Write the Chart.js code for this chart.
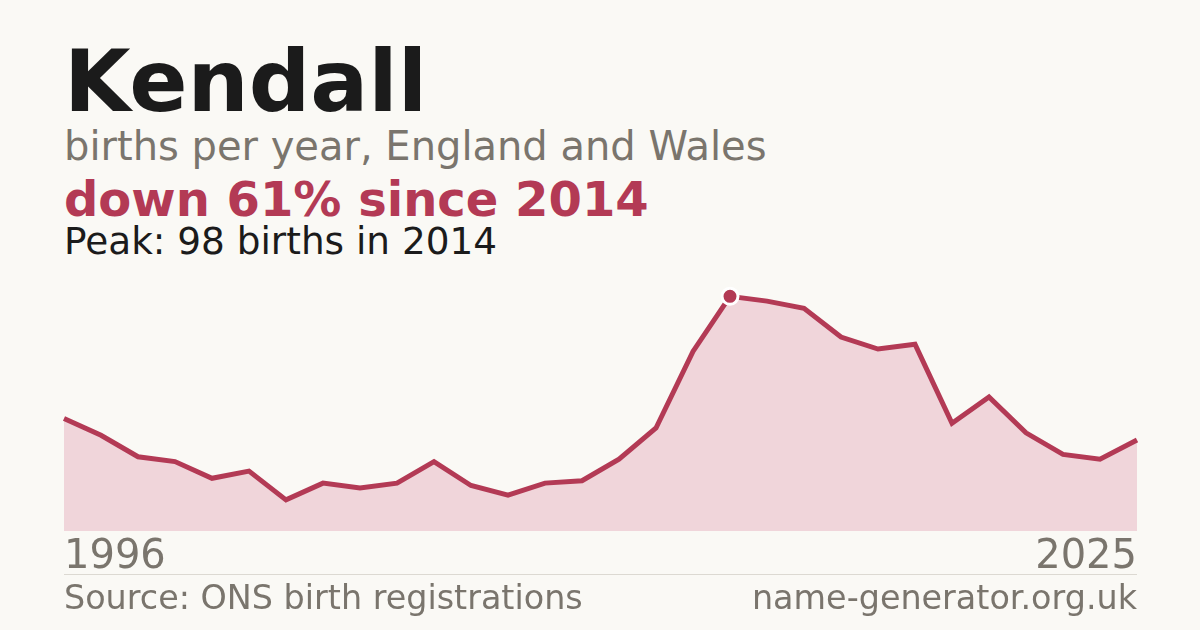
<!DOCTYPE html>
<html><head><meta charset="utf-8">
<script src="https://cdn.jsdelivr.net/npm/chart.js@4"></script>
<style>
html,body{margin:0;padding:0;background:#faf9f5;}
body{width:1200px;height:630px;position:relative;overflow:hidden;font-family:"DejaVu Sans",sans-serif;}
.t{position:absolute;left:64px;white-space:nowrap;line-height:1;}
#title{top:38px;font-size:86px;font-weight:bold;color:#1b1b1b;}
#sub{top:126px;font-size:40px;color:#7a756d;}
#chg{top:175px;font-size:48px;font-weight:bold;color:#b33a55;}
#peak{top:223px;font-size:37.4px;color:#1b1b1b;}
#sep{position:absolute;left:64px;width:1073px;top:574px;height:1px;background:#dcd9d2;}
#src{top:581px;font-size:33.4px;color:#7a756d;}
#site{position:absolute;right:63px;top:581px;font-size:33.4px;color:#7a756d;line-height:1;white-space:nowrap;}
#wrap{position:absolute;left:61px;top:270px;width:1079px;height:315px;}
</style></head>
<body>
<div class="t" id="title">Kendall</div>
<div class="t" id="sub">births per year, England and Wales</div>
<div class="t" id="chg">down 61% since 2014</div>
<div class="t" id="peak">Peak: 98 births in 2014</div>
<div id="wrap"><canvas id="c"></canvas></div>
<div id="sep"></div>
<div class="t" id="src">Source: ONS birth registrations</div>
<div id="site">name-generator.org.uk</div>
<script>
const years = [1996,1997,1998,1999,2000,2001,2002,2003,2004,2005,2006,2007,2008,2009,2010,2011,2012,2013,2014,2015,2016,2017,2018,2019,2020,2021,2022,2023,2024,2025];
const births = [47,40,31,29,22,25,13,20,18,20,29,19,15,20,21,30,43,75,98,96,93,81,76,78,45,56,41,32,30,38];
const peakIndex = births.indexOf(Math.max(...births));
const ctx = document.getElementById('c');
new Chart(ctx, {
  type: 'line',
  data: {
    labels: years.map(String),
    datasets: [{
      data: births,
      borderColor: '#b33a55',
      borderWidth: 5,
      backgroundColor: '#f0d5da',
      fill: 'origin',
      tension: 0,
      pointRadius: births.map((v,i)=> i===peakIndex ? 8 : 0),
      pointHoverRadius: 0,
      pointBackgroundColor: '#b33a55',
      pointBorderColor: '#ffffff',
      pointBorderWidth: 3,
      clip: false
    }]
  },
  options: {
    responsive: true,
    maintainAspectRatio: false,
    animation: false,
    layout: {padding: 0},
    plugins: {legend: {display: false}, tooltip: {enabled: false}},
    scales: {
      x: {
        offset: false,
        grid: {display: false, drawTicks: false},
        border: {display: false},
        ticks: {
          autoSkip: false,
          maxRotation: 0,
          align: 'inner',
          padding: 3,
          color: '#7a756d',
          font: {family: 'DejaVu Sans', size: 40},
          callback: function(v, i) { return (i === 0 || i === years.length - 1) ? years[i] : null; }
        }
      },
      y: {display: false, min: 0, max: 109}
    }
  }
});
</script>
</body></html>
